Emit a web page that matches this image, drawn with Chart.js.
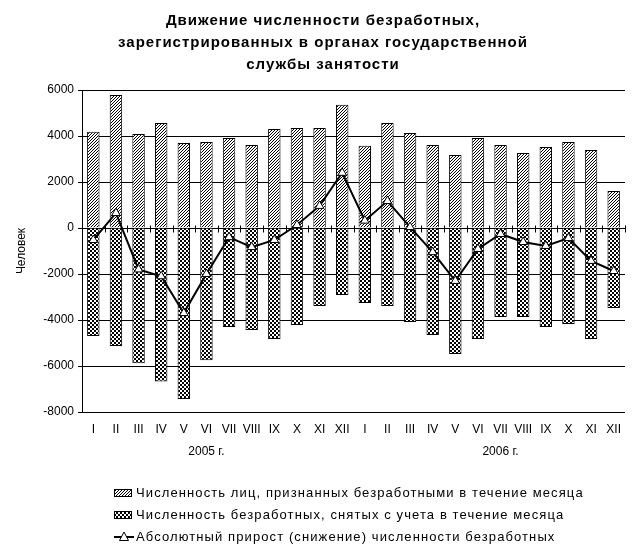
<!DOCTYPE html>
<html>
<head>
<meta charset="utf-8">
<script src="https://cdn.jsdelivr.net/npm/chart.js@4/dist/chart.umd.min.js"></script>
<style>
  body { margin: 0; background: #fff; }
</style>
</head>
<body>
<canvas id="chart" width="638" height="559"></canvas>
<script>
var months = ['I','II','III','IV','V','VI','VII','VIII','IX','X','XI','XII',
              'I','II','III','IV','V','VI','VII','VIII','IX','X','XI','XII'];
var years = ['2005 г.', '2006 г.'];

// признаны безработными за месяц
var registered = [4180, 5780, 4090, 4560, 3700, 3740, 3910, 3610, 4300, 4350, 4350, 5360,
                  3580, 4560, 4130, 3610, 3170, 3910, 3610, 3260, 3520, 3740, 3390, 1610];
var removed = [-4700, -5130, -5880, -6670, -7430, -5750, -4300, -4430, -4830, -4220, -3390, -2910,
               -3260, -3390, -4090, -4650, -5480, -4830, -3870, -3870, -4300, -4170, -4830, -3480];
// абсолютный прирост (снижение)
var growth = [-520, 650, -1800, -2100, -3700, -2000, -400, -830, -520, 130, 960, 2400,
              320, 1170, 40, -1050, -2300, -910, -260, -610, -780, -440, -1430, -1870];

var titleLines = ['Движение численности безработных,',
                  'зарегистрированных в органах государственной',
                  'службы занятости'];

var legendNames = [
    'Численность лиц, признанных безработными в течение месяца',
    'Численность безработных, снятых с учета в течение месяца',
    'Абсолютный прирост (снижение) численности безработных'
];

var FONT = 'Arial, "Liberation Sans", sans-serif';
Chart.defaults.color = '#000';
Chart.defaults.font.family = FONT;
Chart.defaults.font.size = 12;

function hatch() {
    var c = document.createElement('canvas');
    c.width = 3; c.height = 3;
    var g = c.getContext('2d');
    g.fillStyle = '#fff'; g.fillRect(0, 0, 3, 3);
    g.fillStyle = '#000';
    for (var i = 0; i < 3; i++) g.fillRect(i, 2 - i, 1, 1);
    return g.createPattern(c, 'repeat');
}

function checker() {
    var c = document.createElement('canvas');
    c.width = 4; c.height = 4;
    var g = c.getContext('2d');
    g.fillStyle = '#fff'; g.fillRect(0, 0, 4, 4);
    g.fillStyle = '#000';
    g.fillRect(0, 0, 2, 2); g.fillRect(2, 2, 2, 2);
    return g.createPattern(c, 'repeat');
}

var hatchFill = hatch();
var checkFill = checker();

// линия нуля с засечками между месяцами
var zeroAxis = {
    id: 'zeroAxis',
    beforeDatasetsDraw: function(chart) {
        var ctx = chart.ctx, x = chart.scales.x, y = chart.scales.y;
        var y0 = Math.round(y.getPixelForValue(0)) + 0.5;
        var step = (x.right - x.left) / months.length;
        ctx.save();
        ctx.strokeStyle = '#000';
        ctx.lineWidth = 1;
        ctx.beginPath();
        ctx.moveTo(x.left, y0); ctx.lineTo(x.right, y0);
        for (var i = 0; i <= months.length; i++) {
            var px = Math.round(x.left + i * step) + 0.5;
            ctx.moveTo(px, y0 - 3); ctx.lineTo(px, y0 + 4);
        }
        ctx.stroke();
        ctx.restore();
    }
};

var textParts = {
    id: 'textParts',
    afterDraw: function(chart) {
        var ctx = chart.ctx, x = chart.scales.x;
        ctx.save();
        ctx.fillStyle = '#000';

        // заголовок
        ctx.font = 'bold 15px ' + FONT;
        ctx.letterSpacing = '1px';
        ctx.textAlign = 'center';
        ctx.textBaseline = 'middle';
        titleLines.forEach(function(t, i) {
            ctx.fillText(t, 323, 21 + i * 22);
        });

        ctx.letterSpacing = '0px';
        ctx.font = '12px ' + FONT;
        ctx.fillText(years[0], x.getPixelForValue(5), 452);
        ctx.fillText(years[1], x.getPixelForValue(18), 452);

        // легенда
        var lx = 114, rows = [493, 515, 537];
        ctx.lineWidth = 1;
        ctx.strokeStyle = '#000';
        [hatchFill, checkFill].forEach(function(fill, i) {
            var ty = rows[i] - 4;
            ctx.fillStyle = fill;
            ctx.fillRect(lx, ty, 18, 8);
            ctx.strokeRect(lx + 0.5, ty + 0.5, 17, 7);
        });
        ctx.lineWidth = 2;
        ctx.beginPath();
        ctx.moveTo(lx, rows[2]); ctx.lineTo(lx + 20, rows[2]);
        ctx.stroke();
        ctx.lineWidth = 1;
        ctx.fillStyle = '#fff';
        ctx.beginPath();
        ctx.moveTo(lx + 10, rows[2] - 5);
        ctx.lineTo(lx + 14.5, rows[2] + 3.5);
        ctx.lineTo(lx + 5.5, rows[2] + 3.5);
        ctx.closePath();
        ctx.fill(); ctx.stroke();

        ctx.fillStyle = '#000';
        ctx.textAlign = 'left';
        ctx.font = '13px ' + FONT;
        ctx.letterSpacing = '1.1px';
        legendNames.forEach(function(t, i) {
            ctx.fillText(t, lx + 22, rows[i]);
        });
        ctx.restore();
    }
};

new Chart(document.getElementById('chart'), {
    data: {
        labels: months,
        datasets: [{
            type: 'line',
            label: legendNames[2],
            data: growth,
            borderColor: '#000',
            borderWidth: 2,
            pointStyle: 'triangle',
            pointRadius: 5,
            pointBackgroundColor: '#fff',
            pointBorderColor: '#000',
            pointBorderWidth: 1,
            order: 0
        }, {
            type: 'bar',
            label: legendNames[0],
            data: registered,
            backgroundColor: hatchFill,
            borderColor: '#000',
            borderWidth: 1,
            categoryPercentage: 1,
            barPercentage: 0.55,
            order: 1
        }, {
            type: 'bar',
            label: legendNames[1],
            data: removed,
            backgroundColor: checkFill,
            borderColor: '#000',
            borderWidth: 1,
            categoryPercentage: 1,
            barPercentage: 0.55,
            order: 2
        }]
    },
    options: {
        responsive: false,
        animation: false,
        devicePixelRatio: 1,
        layout: { padding: { left: 0, right: 13, top: 90, bottom: 0 } },
        plugins: {
            legend: { display: false },
            tooltip: { enabled: false },
            title: { display: false }
        },
        scales: {
            x: {
                stacked: true,
                grid: { display: false },
                border: { display: false },
                ticks: { padding: 2, autoSkip: false, maxRotation: 0 },
                afterFit: function(s) { s.height = 147; }
            },
            y: {
                stacked: false,
                min: -8000,
                max: 6000,
                ticks: {
                    stepSize: 2000,
                    padding: 4,
                    callback: function(v) { return String(v); }
                },
                grid: { color: '#000', tickLength: 4, tickColor: '#000' },
                border: { display: true, color: '#000' },
                title: { display: true, text: 'Человек', padding: { top: 14, bottom: 0 } },
                afterFit: function(s) { s.width = 82; }
            }
        }
    },
    plugins: [zeroAxis, textParts]
});
</script>
</body>
</html>
